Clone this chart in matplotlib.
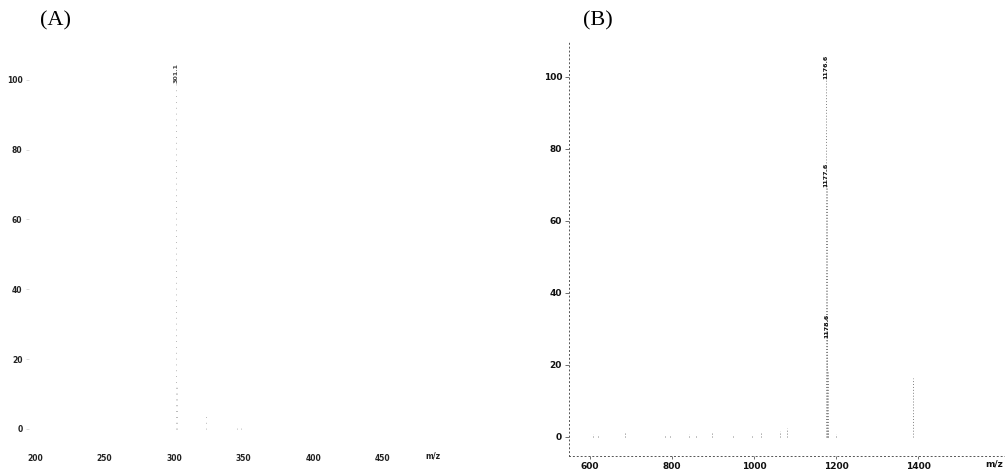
import matplotlib
matplotlib.use("Agg")
import matplotlib.pyplot as plt

# panel A: m/z 200-500
mz_a = [301.1, 302.1, 323.1, 345.0, 348.0]
int_a = [100, 12.5, 4, 0.8, 0.8]
label_a = ["301.1"]

# panel B: m/z 550-1600
mz_b = [607, 620, 686, 783, 795, 842, 859, 898, 949, 995, 1017, 1064, 1081,
        1176.6, 1177.6, 1178.6, 1179.6, 1181, 1200, 1388]
int_b = [0.8, 0.6, 1.2, 0.6, 0.5, 0.8, 0.4, 1.5, 0.4, 0.5, 1.3, 1.6, 2.6,
         100, 70, 28, 18, 2.0, 0.8, 16.5]
label_b = {1176.6: "1176.6", 1177.6: "1177.6", 1178.6: "1178.6"}

yticks = [0, 20, 40, 60, 80, 100]
xticks_a = [200, 250, 300, 350, 400, 450]
xticks_b = [600, 800, 1000, 1200, 1400]

W, H = 1005, 470
fig = plt.figure(figsize=(W / 100, H / 100), dpi=100)


def px_axes(x0, x1, y0, y1):
    # pixel box (top-left origin) -> figure fraction
    return fig.add_axes([x0 / W, 1 - y1 / H, (x1 - x0) / W, (y1 - y0) / H])


# ---- panel A
axA = px_axes(29.4, 452.6, 45.0, 448.0)
axA.set_xlim(196, 500)
axA.set_ylim(-5.5, 110)
axA.vlines(mz_a, 0, int_a, colors="#a0a0a0", linestyles=(0, (1, 6)), lw=0.6)
axA.text(301.1, 99, label_a[0], rotation=90, ha="center", va="bottom",
         fontsize=4.6, color="#444444", fontweight="bold")
for s in axA.spines.values():
    s.set_visible(False)
axA.set_yticks(yticks)
axA.set_xticks(xticks_a)
axA.tick_params(axis="y", length=2, width=0.5, color="#cccccc", pad=3,
                labelsize=5.5, labelcolor="#222222")
axA.tick_params(axis="x", length=0, pad=4, labelsize=5.5, labelcolor="#222222")
for t in axA.get_xticklabels() + axA.get_yticklabels():
    t.set_fontweight("bold")
axA.text(486, -7.8, "m/z", ha="center", va="center", fontsize=5.5,
         fontweight="bold", color="#222222", clip_on=False)

# ---- panel B
axB = px_axes(569.0, 1005.0, 41.0, 456.0)
axB.set_xlim(549, 1612)
axB.set_ylim(-5.3, 110)
axB.vlines(mz_b, 0, int_b, colors="#808080", linestyles=(0, (1, 2)), lw=0.7)
for m, lab in label_b.items():
    h = int_b[mz_b.index(m)]
    axB.text(m - 2, h - 0.5, lab, rotation=90, ha="center", va="bottom",
             fontsize=4.6, color="#111111", fontweight="bold")
for k in ["top", "right"]:
    axB.spines[k].set_visible(False)
for k in ["left", "bottom"]:
    axB.spines[k].set_linestyle((0, (1, 3)))
    axB.spines[k].set_linewidth(0.7)
    axB.spines[k].set_color("#555555")
axB.set_yticks(yticks)
axB.set_xticks(xticks_b)
axB.tick_params(axis="y", length=3, width=0.6, color="#555555", pad=2,
                labelsize=6.5, labelcolor="#111111")
axB.tick_params(axis="x", length=2, width=0.6, color="#555555", pad=2,
                labelsize=6.5, labelcolor="#111111")
for t in axB.get_xticklabels() + axB.get_yticklabels():
    t.set_fontweight("bold")
axB.text(1606, -7.6, "m/z", ha="right", va="center", fontsize=6.5,
         fontweight="bold", color="#111111", clip_on=False)

# panel letters
fig.text(40 / W, 1 - 21 / H, "(A)", family="Liberation Serif", fontsize=16,
         va="center", ha="left")
fig.text(583 / W, 1 - 21 / H, "(B)", family="Liberation Serif", fontsize=16,
         va="center", ha="left")

fig.savefig("out.png", dpi=100, facecolor="white")
